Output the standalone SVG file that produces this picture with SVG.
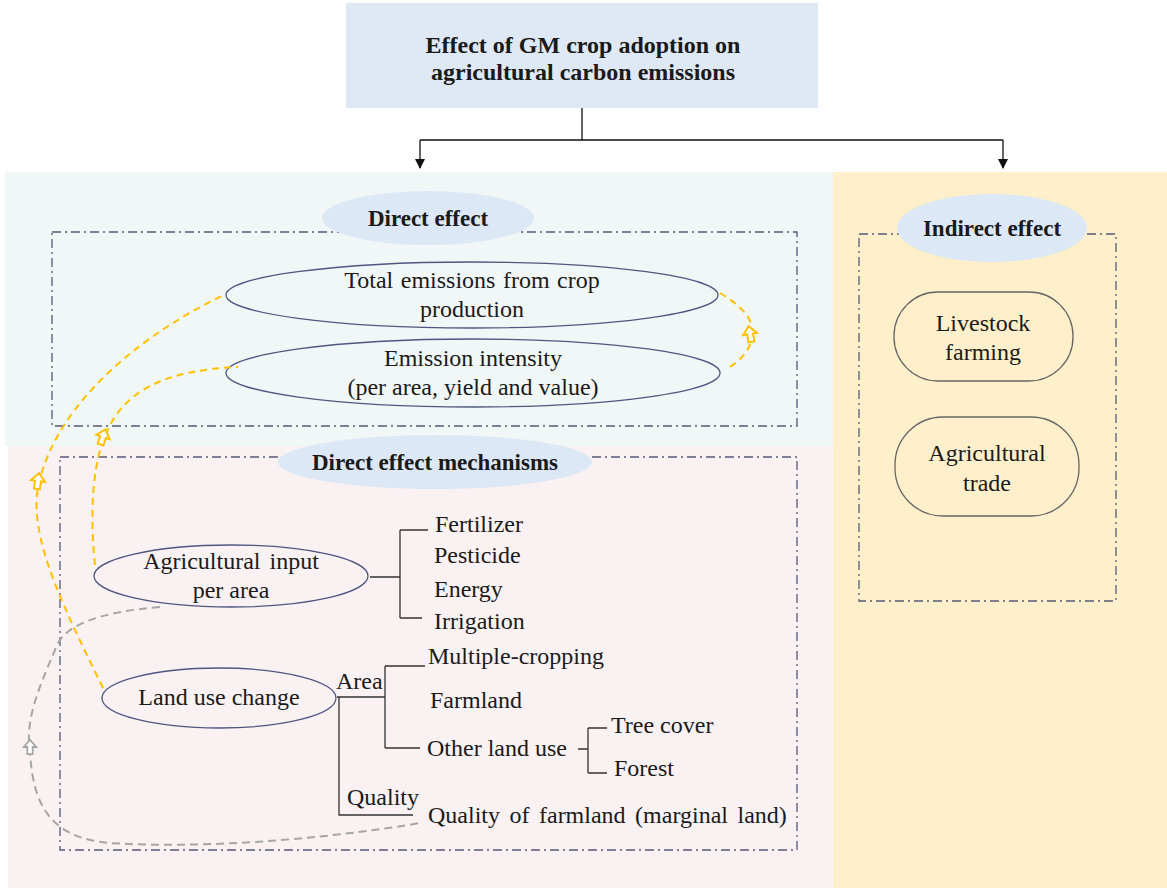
<svg xmlns="http://www.w3.org/2000/svg" width="1167" height="888" viewBox="0 0 1167 888">
<style>
text{font-family:"Liberation Serif",serif;fill:#1a1a1a;}
.t{font-size:24px;}
.b{font-size:23px;font-weight:bold;}
.dd{fill:none;stroke:#555a78;stroke-width:1.3;stroke-dasharray:9 4 2 4;}
.el{fill:none;stroke:#4f5680;stroke-width:1.3;}
.rr{fill:none;stroke:#666;stroke-width:1.3;}
.br{fill:none;stroke:#333;stroke-width:1.3;}
.yc{fill:none;stroke:#FFC000;stroke-width:2;stroke-dasharray:7 5;}
.gc{fill:none;stroke:#A6A6A6;stroke-width:2;stroke-dasharray:8 5;}
.ya{fill:#fff;stroke:#FFC000;stroke-width:2;}
.ga{fill:#fff;stroke:#A6A6A6;stroke-width:2;}
.lbl{fill:#DCE8F5;}
</style>
<defs>
<marker id="ah" markerWidth="10" markerHeight="10" refX="9" refY="5" orient="auto" markerUnits="userSpaceOnUse" viewBox="0 0 10 10">
<path d="M0,0 L10,5 L0,10 Z" fill="#111"/>
</marker>
<path id="ha" d="M0,-8 L7,0 L3,0 L3,8 L-3,8 L-3,0 L-7,0 Z"/>
</defs>
<rect width="1167" height="888" fill="#fff"/>
<g id="panels">
<rect x="5" y="172" width="828" height="274" fill="#F1F7F7"/>
<rect x="8" y="446" width="825" height="442" fill="#FAF1F2"/>
<rect x="833" y="172" width="334" height="716" fill="#FFF0CB"/>
</g>
<g id="title">
<rect x="346" y="3" width="472" height="105" fill="#DEE9F5"/>
<text class="b" font-family="Liberation Serif" style="font-size:24px" x="583" y="53" text-anchor="middle">Effect of GM crop adoption on</text>
<text class="b" font-family="Liberation Serif" style="font-size:24px" x="583" y="80" text-anchor="middle">agricultural carbon emissions</text>
</g>
<g id="connectors" stroke="#111" stroke-width="1.3" fill="none">
<path d="M582,108 V140 M420,140 H1003"/>
<path d="M420,140 V168" marker-end="url(#ah)"/>
<path d="M1003,140 V168" marker-end="url(#ah)"/>
</g>
<g id="direct-effect">
<rect class="dd" x="52" y="232" width="745" height="194"/>
<ellipse class="lbl" cx="428" cy="218" rx="106" ry="27"/>
<text class="b" font-family="Liberation Serif" x="428" y="226" text-anchor="middle">Direct effect</text>
</g>
<g id="total-emissions">
<ellipse class="el" cx="472" cy="295" rx="246" ry="33"/>
<text class="t" font-family="Liberation Serif" x="472" y="288" text-anchor="middle" word-spacing="1.5">Total emissions from crop</text>
<text class="t" font-family="Liberation Serif" x="472" y="317" text-anchor="middle">production</text>
</g>
<g id="emission-intensity">
<ellipse class="el" cx="473" cy="373" rx="247" ry="34"/>
<text class="t" font-family="Liberation Serif" x="473" y="366" text-anchor="middle">Emission intensity</text>
<text class="t" font-family="Liberation Serif" x="473" y="395" text-anchor="middle">(per area, yield and value)</text>
</g>
<g id="mechanisms">
<rect class="dd" x="60" y="457" width="737" height="393"/>
<ellipse class="lbl" cx="435" cy="462" rx="157" ry="27"/>
<text class="b" font-family="Liberation Serif" x="435" y="470" text-anchor="middle">Direct effect mechanisms</text>
</g>
<g id="agri-input">
<ellipse class="el" cx="231" cy="576" rx="137" ry="31"/>
<text class="t" font-family="Liberation Serif" x="231" y="569" text-anchor="middle" word-spacing="3">Agricultural input</text>
<text class="t" font-family="Liberation Serif" x="231" y="598" text-anchor="middle">per area</text>
<path class="br" d="M370,577 H400 M400,530 V618 M400,530 H428 M400,618 H422"/>
<text class="t" font-family="Liberation Serif" x="435" y="532">Fertilizer</text>
<text class="t" font-family="Liberation Serif" x="434" y="563">Pesticide</text>
<text class="t" font-family="Liberation Serif" x="434" y="597">Energy</text>
<text class="t" font-family="Liberation Serif" x="434" y="629">Irrigation</text>
</g>
<g id="land-use">
<ellipse class="el" cx="219" cy="698" rx="117" ry="30"/>
<text class="t" font-family="Liberation Serif" x="219" y="705" text-anchor="middle">Land use change</text>
<path class="br" d="M337,697 H385 M385,666 V748 M385,666 H425 M385,748 H420 M339,697 V815 H413"/>
<text class="t" font-family="Liberation Serif" x="336" y="689">Area</text>
<text class="t" font-family="Liberation Serif" x="347" y="805">Quality</text>
<text class="t" font-family="Liberation Serif" x="428" y="664">Multiple-cropping</text>
<text class="t" font-family="Liberation Serif" x="430" y="708">Farmland</text>
<text class="t" font-family="Liberation Serif" x="427" y="756">Other land use</text>
<path class="br" d="M578,749 H588 M588,728 V773 M588,728 H607 M588,773 H607"/>
<text class="t" font-family="Liberation Serif" x="611" y="733">Tree cover</text>
<text class="t" font-family="Liberation Serif" x="614" y="776">Forest</text>
<text class="t" font-family="Liberation Serif" x="428" y="823" word-spacing="3.5">Quality of farmland (marginal land)</text>
</g>
<g id="indirect-effect">
<rect class="dd" x="859" y="234" width="257" height="367"/>
<ellipse class="lbl" cx="992" cy="228" rx="95" ry="34"/>
<text class="b" font-family="Liberation Serif" x="992" y="236" text-anchor="middle">Indirect effect</text>
</g>
<g id="livestock">
<rect class="rr" x="894" y="292" width="179" height="89" rx="44"/>
<text class="t" font-family="Liberation Serif" x="983" y="331" text-anchor="middle">Livestock</text>
<text class="t" font-family="Liberation Serif" x="983" y="360" text-anchor="middle">farming</text>
</g>
<g id="trade">
<rect class="rr" x="895" y="417" width="184" height="99" rx="48"/>
<text class="t" font-family="Liberation Serif" x="987" y="461" text-anchor="middle">Agricultural</text>
<text class="t" font-family="Liberation Serif" x="987" y="491" text-anchor="middle">trade</text>
</g>
<g id="feedback">
<path class="yc" d="M103,688 C70,620 28,540 38,488 C55,400 150,330 222,296"/>
<path class="yc" d="M95,565 C90,520 92,470 103,442 C120,388 170,370 238,367"/>
<path class="yc" d="M720,293 C740,305 752,318 751,327 M750,344 C748,352 740,360 730,367"/>
<use href="#ha" class="ya" transform="translate(38,481) rotate(8)"/>
<use href="#ha" class="ya" transform="translate(103,437) rotate(18)"/>
<use href="#ha" class="ya" transform="translate(750,334) rotate(-10)"/>
<path class="gc" d="M160,607 C100,612 62,625 55,650 C38,690 25,720 30,752 C33,805 50,838 110,843 C220,850 350,835 420,823"/>
<use href="#ha" class="ga" transform="translate(30,747) scale(0.9)"/>
</g>
</svg>
